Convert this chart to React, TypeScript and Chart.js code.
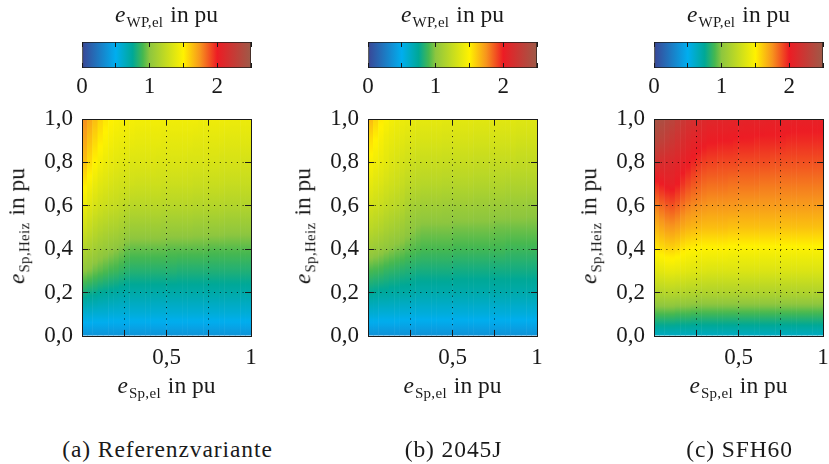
import React, { useEffect, useRef } from 'react';
import { Chart, registerables } from 'chart.js';

Chart.register(...registerables);

// ---------- data ----------
const X_COLUMNS = [
  0.015625, 0.046875, 0.078125, 0.109375, 0.140625, 0.171875, 0.203125, 0.234375,
  0.265625, 0.296875, 0.328125, 0.359375, 0.390625, 0.421875, 0.453125, 0.484375,
  0.515625, 0.546875, 0.578125, 0.609375, 0.640625, 0.671875, 0.703125, 0.734375,
  0.765625, 0.796875, 0.828125, 0.859375, 0.890625, 0.921875, 0.953125, 0.984375,
];
const Y_ROWS = [0, 0.1, 0.2, 0.3, 0.4, 0.5, 0.6, 0.7, 0.8, 0.9, 1.0];

// rows from y = 0 (first) to y = 1 (last); columns follow X_COLUMNS
const REF_GRID = [
  [0.37, 0.37, 0.37, 0.37, 0.37, 0.37, 0.37, 0.37, 0.37, 0.37,
    0.37, 0.37, 0.37, 0.37, 0.37, 0.37, 0.37, 0.37, 0.37, 0.37, 0.37,
    0.37, 0.37, 0.37, 0.37, 0.37, 0.37, 0.37, 0.37, 0.37, 0.37, 0.37],
  [0.58, 0.58, 0.57, 0.57, 0.57, 0.56, 0.56, 0.56, 0.56, 0.56,
    0.56, 0.56, 0.56, 0.56, 0.56, 0.56, 0.56, 0.56, 0.56, 0.56, 0.56,
    0.56, 0.56, 0.56, 0.56, 0.56, 0.56, 0.56, 0.56, 0.56, 0.56, 0.56],
  [0.80, 0.78, 0.77, 0.75, 0.74, 0.73, 0.72, 0.71, 0.70, 0.70,
    0.70, 0.70, 0.70, 0.70, 0.70, 0.70, 0.70, 0.70, 0.70, 0.70, 0.70,
    0.70, 0.70, 0.70, 0.70, 0.70, 0.70, 0.70, 0.70, 0.70, 0.70, 0.70],
  [1.00, 0.98, 0.95, 0.93, 0.91, 0.89, 0.88, 0.86, 0.84, 0.83,
    0.83, 0.83, 0.83, 0.83, 0.83, 0.83, 0.83, 0.83, 0.82, 0.82, 0.82,
    0.82, 0.82, 0.82, 0.82, 0.82, 0.82, 0.82, 0.82, 0.82, 0.82, 0.82],
  [1.15, 1.12, 1.09, 1.06, 1.04, 1.02, 1.00, 0.98, 0.95, 0.94,
    0.94, 0.94, 0.94, 0.94, 0.94, 0.94, 0.93, 0.93, 0.93, 0.93, 0.93,
    0.93, 0.93, 0.93, 0.92, 0.92, 0.92, 0.92, 0.92, 0.92, 0.92, 0.92],
  [1.29, 1.25, 1.21, 1.18, 1.16, 1.14, 1.13, 1.11, 1.08, 1.07,
    1.07, 1.07, 1.07, 1.07, 1.07, 1.06, 1.06, 1.06, 1.06, 1.06, 1.06,
    1.05, 1.05, 1.05, 1.05, 1.05, 1.05, 1.04, 1.04, 1.04, 1.04, 1.04],
  [1.41, 1.36, 1.32, 1.29, 1.27, 1.25, 1.24, 1.22, 1.20, 1.19,
    1.19, 1.19, 1.19, 1.19, 1.19, 1.18, 1.18, 1.18, 1.18, 1.18, 1.18,
    1.17, 1.17, 1.17, 1.17, 1.17, 1.17, 1.16, 1.16, 1.16, 1.16, 1.16],
  [1.52, 1.46, 1.41, 1.37, 1.35, 1.33, 1.31, 1.30, 1.29, 1.29,
    1.28, 1.28, 1.28, 1.28, 1.28, 1.27, 1.27, 1.27, 1.27, 1.27, 1.27,
    1.26, 1.26, 1.26, 1.26, 1.26, 1.26, 1.25, 1.25, 1.25, 1.25, 1.25],
  [1.63, 1.56, 1.50, 1.45, 1.42, 1.40, 1.38, 1.37, 1.36, 1.35,
    1.35, 1.35, 1.35, 1.35, 1.34, 1.34, 1.34, 1.34, 1.34, 1.34, 1.33,
    1.33, 1.33, 1.33, 1.33, 1.33, 1.32, 1.32, 1.32, 1.32, 1.31, 1.31],
  [1.70, 1.63, 1.57, 1.52, 1.48, 1.45, 1.43, 1.42, 1.41, 1.41,
    1.40, 1.40, 1.40, 1.40, 1.40, 1.39, 1.39, 1.39, 1.39, 1.39, 1.39,
    1.38, 1.38, 1.38, 1.38, 1.38, 1.38, 1.37, 1.37, 1.37, 1.37, 1.37],
  [1.76, 1.70, 1.64, 1.58, 1.53, 1.50, 1.48, 1.47, 1.46, 1.46,
    1.45, 1.45, 1.45, 1.45, 1.45, 1.44, 1.44, 1.44, 1.44, 1.44, 1.44,
    1.44, 1.43, 1.43, 1.43, 1.43, 1.43, 1.43, 1.42, 1.42, 1.42, 1.42],
];

const J2045_GRID = [
  [0.36, 0.36, 0.36, 0.36, 0.36, 0.36, 0.36, 0.36, 0.36, 0.36,
    0.36, 0.36, 0.36, 0.36, 0.36, 0.36, 0.36, 0.36, 0.36, 0.36, 0.36,
    0.36, 0.36, 0.36, 0.36, 0.36, 0.36, 0.36, 0.36, 0.36, 0.36, 0.36],
  [0.57, 0.57, 0.56, 0.56, 0.56, 0.56, 0.55, 0.55, 0.55, 0.55,
    0.55, 0.55, 0.55, 0.55, 0.55, 0.55, 0.55, 0.55, 0.55, 0.55, 0.55,
    0.55, 0.55, 0.55, 0.55, 0.55, 0.55, 0.55, 0.55, 0.55, 0.55, 0.55],
  [0.75, 0.74, 0.73, 0.73, 0.72, 0.72, 0.71, 0.71, 0.70, 0.69,
    0.69, 0.69, 0.69, 0.69, 0.69, 0.69, 0.69, 0.69, 0.69, 0.69, 0.69,
    0.69, 0.69, 0.69, 0.69, 0.69, 0.69, 0.69, 0.69, 0.69, 0.69, 0.69],
  [0.90, 0.89, 0.88, 0.86, 0.85, 0.84, 0.83, 0.82, 0.81, 0.80,
    0.80, 0.80, 0.80, 0.80, 0.80, 0.80, 0.79, 0.79, 0.79, 0.79, 0.79,
    0.79, 0.79, 0.79, 0.79, 0.79, 0.79, 0.79, 0.79, 0.79, 0.79, 0.79],
  [1.07, 1.05, 1.03, 1.01, 0.99, 0.97, 0.96, 0.94, 0.92, 0.91,
    0.90, 0.90, 0.90, 0.90, 0.90, 0.90, 0.89, 0.89, 0.89, 0.89, 0.89,
    0.89, 0.89, 0.89, 0.89, 0.89, 0.88, 0.88, 0.88, 0.88, 0.88, 0.88],
  [1.20, 1.18, 1.16, 1.13, 1.11, 1.09, 1.07, 1.04, 1.01, 0.99,
    0.98, 0.98, 0.98, 0.98, 0.98, 0.98, 0.97, 0.97, 0.97, 0.97, 0.97,
    0.97, 0.97, 0.97, 0.96, 0.96, 0.96, 0.96, 0.96, 0.96, 0.96, 0.96],
  [1.30, 1.28, 1.26, 1.23, 1.21, 1.19, 1.17, 1.13, 1.10, 1.09,
    1.08, 1.08, 1.08, 1.08, 1.07, 1.07, 1.07, 1.07, 1.07, 1.07, 1.06,
    1.06, 1.06, 1.06, 1.06, 1.06, 1.05, 1.05, 1.05, 1.05, 1.04, 1.04],
  [1.39, 1.36, 1.34, 1.31, 1.29, 1.27, 1.25, 1.22, 1.20, 1.19,
    1.18, 1.18, 1.18, 1.18, 1.17, 1.17, 1.17, 1.17, 1.17, 1.17, 1.16,
    1.16, 1.16, 1.16, 1.16, 1.16, 1.15, 1.15, 1.15, 1.15, 1.15, 1.15],
  [1.47, 1.44, 1.41, 1.38, 1.35, 1.33, 1.31, 1.29, 1.27, 1.26,
    1.26, 1.26, 1.26, 1.26, 1.25, 1.25, 1.25, 1.25, 1.25, 1.25, 1.24,
    1.24, 1.24, 1.24, 1.24, 1.24, 1.24, 1.24, 1.23, 1.23, 1.23, 1.23],
  [1.55, 1.50, 1.46, 1.42, 1.40, 1.38, 1.37, 1.35, 1.34, 1.33,
    1.33, 1.33, 1.33, 1.33, 1.32, 1.32, 1.32, 1.32, 1.32, 1.32, 1.31,
    1.31, 1.31, 1.31, 1.31, 1.31, 1.31, 1.31, 1.30, 1.30, 1.30, 1.30],
  [1.65, 1.58, 1.52, 1.48, 1.45, 1.43, 1.42, 1.41, 1.40, 1.39,
    1.39, 1.39, 1.39, 1.39, 1.38, 1.38, 1.38, 1.38, 1.38, 1.38, 1.37,
    1.37, 1.37, 1.37, 1.37, 1.37, 1.37, 1.37, 1.36, 1.36, 1.36, 1.36],
];

const SFH60_GRID = [
  [0.62, 0.62, 0.62, 0.62, 0.62, 0.62, 0.62, 0.62, 0.62, 0.62,
    0.62, 0.62, 0.62, 0.62, 0.62, 0.62, 0.62, 0.62, 0.62, 0.62, 0.62,
    0.62, 0.62, 0.62, 0.62, 0.62, 0.62, 0.62, 0.62, 0.62, 0.62, 0.62],
  [0.90, 0.90, 0.90, 0.90, 0.89, 0.89, 0.89, 0.88, 0.88, 0.88,
    0.88, 0.88, 0.88, 0.88, 0.88, 0.88, 0.88, 0.88, 0.88, 0.88, 0.88,
    0.88, 0.88, 0.88, 0.88, 0.88, 0.88, 0.88, 0.88, 0.88, 0.88, 0.88],
  [1.17, 1.17, 1.18, 1.18, 1.17, 1.17, 1.16, 1.16, 1.15, 1.15,
    1.15, 1.15, 1.15, 1.15, 1.15, 1.15, 1.15, 1.15, 1.15, 1.15, 1.15,
    1.15, 1.15, 1.15, 1.15, 1.15, 1.15, 1.15, 1.15, 1.15, 1.15, 1.15],
  [1.37, 1.38, 1.40, 1.40, 1.39, 1.38, 1.37, 1.36, 1.35, 1.35,
    1.34, 1.34, 1.34, 1.34, 1.34, 1.34, 1.34, 1.34, 1.34, 1.34, 1.34,
    1.34, 1.34, 1.34, 1.34, 1.34, 1.34, 1.34, 1.34, 1.34, 1.34, 1.34],
  [1.53, 1.55, 1.57, 1.58, 1.56, 1.53, 1.51, 1.50, 1.49, 1.49,
    1.49, 1.49, 1.49, 1.49, 1.48, 1.48, 1.48, 1.48, 1.48, 1.48, 1.48,
    1.48, 1.48, 1.48, 1.48, 1.48, 1.48, 1.48, 1.48, 1.48, 1.48, 1.48],
  [1.67, 1.70, 1.73, 1.74, 1.72, 1.69, 1.67, 1.66, 1.65, 1.64,
    1.64, 1.64, 1.64, 1.64, 1.63, 1.63, 1.63, 1.63, 1.63, 1.63, 1.63,
    1.63, 1.63, 1.63, 1.63, 1.63, 1.63, 1.63, 1.63, 1.63, 1.63, 1.63],
  [1.80, 1.84, 1.87, 1.89, 1.86, 1.82, 1.79, 1.77, 1.76, 1.75,
    1.74, 1.74, 1.74, 1.74, 1.74, 1.74, 1.73, 1.73, 1.73, 1.73, 1.73,
    1.73, 1.73, 1.73, 1.73, 1.73, 1.73, 1.73, 1.73, 1.73, 1.73, 1.73],
  [1.97, 2.00, 2.03, 2.04, 2.00, 1.95, 1.91, 1.88, 1.86, 1.84,
    1.83, 1.83, 1.83, 1.83, 1.82, 1.82, 1.82, 1.82, 1.82, 1.82, 1.81,
    1.81, 1.81, 1.81, 1.81, 1.81, 1.81, 1.81, 1.81, 1.81, 1.81, 1.81],
  [2.18, 2.14, 2.12, 2.11, 2.08, 2.05, 2.02, 1.98, 1.95, 1.93,
    1.92, 1.92, 1.91, 1.91, 1.91, 1.91, 1.90, 1.90, 1.90, 1.90, 1.90,
    1.90, 1.89, 1.89, 1.89, 1.89, 1.89, 1.89, 1.89, 1.89, 1.89, 1.89],
  [2.34, 2.30, 2.26, 2.22, 2.18, 2.14, 2.10, 2.07, 2.05, 2.03,
    2.01, 2.01, 2.00, 2.00, 2.00, 1.99, 1.99, 1.99, 1.99, 1.98, 1.98,
    1.98, 1.98, 1.98, 1.98, 1.97, 1.97, 1.97, 1.97, 1.97, 1.97, 1.97],
  [2.44, 2.41, 2.37, 2.33, 2.28, 2.23, 2.19, 2.16, 2.13, 2.11,
    2.09, 2.09, 2.08, 2.08, 2.07, 2.07, 2.07, 2.06, 2.06, 2.06, 2.06,
    2.05, 2.05, 2.05, 2.05, 2.05, 2.04, 2.04, 2.04, 2.04, 2.04, 2.04],
];

const X_TICKS = [0, 0.25, 0.5, 0.75, 1];
const X_TICK_LABELS = ['', '', '0,5', '', '1'];
const Y_TICKS = [0, 0.2, 0.4, 0.6, 0.8, 1];
const Y_TICK_LABELS = ['0,0', '0,2', '0,4', '0,6', '0,8', '1,0'];
const CB_TICKS = [0, 0.5, 1, 1.5, 2, 2.5];
const CB_TICK_LABELS = ['0', '', '1', '', '2', ''];

const CMAP_VALUES = [0, 0.5, 0.75, 0.9, 1.0, 1.5, 1.75, 2.0, 2.5];
const CMAP_COLORS = ['#3a4696', '#00aeef', '#00a896', '#46b850', '#8dc63f', '#fff200', '#f7941d', '#ed1c24', '#9e5a48'];

const PANEL_TITLES = ['(a) Referenzvariante', '(b) 2045J', '(c) SFH60'];

// ---------- layout ----------
const FONT = "'Liberation Serif', 'Times New Roman', serif";
const TXT = '#1a1a1a';
const PLOT_LEFT = [82, 368, 654];
const PLOT_TOP = 119;
const PLOT_W = 169;
const PLOT_H = 217;
const AX_L = 60, AX_R = 24, AX_T = 30, AX_B = 40;
const CB_TOP = 42, CB_H = 26, CB_PAD = 20, CB_AX_T = 14, CB_AX_B = 36;
const TICK_SIZE = 23;

function hexToRgb(h: string) {
  const n = parseInt(h.slice(1), 16);
  return [(n >> 16) & 255, (n >> 8) & 255, n & 255];
}
const CMAP_RGB = CMAP_COLORS.map(hexToRgb);

function cmap(v: number) {
  const vs = CMAP_VALUES;
  if (!(v > vs[0])) return `rgb(${CMAP_RGB[0].join(',')})`;
  if (v >= vs[vs.length - 1]) return `rgb(${CMAP_RGB[vs.length - 1].join(',')})`;
  let i = 0;
  while (v > vs[i + 1]) i++;
  const t = (v - vs[i]) / (vs[i + 1] - vs[i]);
  const a = CMAP_RGB[i], b = CMAP_RGB[i + 1];
  const c = a.map((x, k) => Math.round(x + (b[k] - x) * t));
  return `rgb(${c.join(',')})`;
}

const SUB = 8;

function Heatmap({ grid, left }: { grid: number[][]; left: number }) {
  const ref = useRef<HTMLCanvasElement>(null);
  useEffect(() => {
    const canvas = ref.current!;
    const last = Y_ROWS.length - 1;
    const columnFill = (ctx: any) => {
      const chart = ctx.chart;
      const ys = chart.scales.y;
      const c = ctx.dataIndex;
      if (!chart.chartArea || !ys || c === undefined) return 'rgba(0,0,0,0)';
      const p0 = ys.getPixelForValue(Y_ROWS[0]);
      const p1 = ys.getPixelForValue(Y_ROWS[last]);
      const g = chart.ctx.createLinearGradient(0, p0, 0, p1);
      const span = Y_ROWS[last] - Y_ROWS[0];
      for (let r = 0; r < last; r++) {
        const v0 = grid[r][c], v1 = grid[r + 1][c];
        for (let s = 0; s < SUB; s++) {
          const t = s / SUB;
          const yv = Y_ROWS[r] + (Y_ROWS[r + 1] - Y_ROWS[r]) * t;
          g.addColorStop((yv - Y_ROWS[0]) / span, cmap(v0 + (v1 - v0) * t));
        }
      }
      g.addColorStop(1, cmap(grid[last][c]));
      return g;
    };
    const gridColor = (c: any) =>
      c.tick && (c.tick.value <= 0 || c.tick.value >= 1) ? 'rgba(0,0,0,0)' : 'rgba(0,0,0,0.85)';
    const font = { family: FONT, size: TICK_SIZE };
    const tickGrid = { z: 1, drawOnChartArea: false, drawTicks: true, tickLength: -6, tickColor: TXT, tickWidth: 1 };
    const chart = new Chart(canvas, {
      type: 'bar',
      data: {
        datasets: [{
          data: X_COLUMNS.map((x) => ({ x, y: [Y_ROWS[0], Y_ROWS[last]] })) as any,
          backgroundColor: columnFill as any,
          borderWidth: 0,
          barPercentage: 1.1,
          categoryPercentage: 1,
        }],
      },
      options: {
        animation: false,
        responsive: false,
        maintainAspectRatio: false,
        events: [],
        layout: { padding: 0 },
        plugins: { legend: { display: false }, tooltip: { enabled: false } },
        scales: {
          x: {
            type: 'linear', position: 'bottom', min: 0, max: 1, offset: false,
            afterBuildTicks: (a: any) => { a.ticks = X_TICKS.map((v) => ({ value: v })); },
            afterFit: (a: any) => { a.height = AX_B; },
            grid: { ...tickGrid, offset: false, drawOnChartArea: true, color: gridColor, lineWidth: 1 },
            border: { display: true, color: TXT, width: 1, dash: [1, 4.7], z: 1 },
            ticks: { autoSkip: false, maxRotation: 0, padding: 14, color: TXT, font, callback: (_v: any, i: number) => X_TICK_LABELS[i] },
          },
          x2: {
            type: 'linear', position: 'top', min: 0, max: 1, offset: false,
            afterBuildTicks: (a: any) => { a.ticks = X_TICKS.map((v) => ({ value: v })); },
            afterFit: (a: any) => { a.height = AX_T; },
            grid: { ...tickGrid, offset: false },
            border: { display: true, color: TXT, width: 1, z: 1 },
            ticks: { display: false },
          },
          y: {
            type: 'linear', position: 'left', min: 0, max: 1,
            afterBuildTicks: (a: any) => { a.ticks = Y_TICKS.map((v) => ({ value: v })); },
            afterFit: (a: any) => { a.width = AX_L; },
            grid: { ...tickGrid, drawOnChartArea: true, color: gridColor, lineWidth: 1 },
            border: { display: true, color: TXT, width: 1, dash: [1, 4.7], z: 1 },
            ticks: { autoSkip: false, padding: 15, color: TXT, font, callback: (_v: any, i: number) => Y_TICK_LABELS[i] },
          },
          y2: {
            type: 'linear', position: 'right', min: 0, max: 1,
            afterBuildTicks: (a: any) => { a.ticks = Y_TICKS.map((v) => ({ value: v })); },
            afterFit: (a: any) => { a.width = AX_R; },
            grid: { ...tickGrid },
            border: { display: true, color: TXT, width: 1, z: 1 },
            ticks: { display: false },
          },
        } as any,
      },
    });
    return () => chart.destroy();
  }, [grid]);
  const w = AX_L + PLOT_W + AX_R;
  const h = AX_T + PLOT_H + AX_B;
  return (
    <canvas ref={ref} width={w} height={h}
      style={{ position: 'absolute', left: left - AX_L, top: PLOT_TOP - AX_T, width: w, height: h }} />
  );
}

function ColorBar({ left }: { left: number }) {
  const ref = useRef<HTMLCanvasElement>(null);
  useEffect(() => {
    const canvas = ref.current!;
    const n = CMAP_VALUES.length - 1;
    const barFill = (ctx: any) => {
      const chart = ctx.chart;
      const xs = chart.scales.x;
      if (!chart.chartArea || !xs) return 'rgba(0,0,0,0)';
      const p0 = xs.getPixelForValue(CMAP_VALUES[0]);
      const p1 = xs.getPixelForValue(CMAP_VALUES[n]);
      const g = chart.ctx.createLinearGradient(p0, 0, p1, 0);
      const span = CMAP_VALUES[n] - CMAP_VALUES[0];
      CMAP_VALUES.forEach((v, i) => g.addColorStop((v - CMAP_VALUES[0]) / span, CMAP_COLORS[i]));
      return g;
    };
    const font = { family: FONT, size: TICK_SIZE };
    const tickGrid = { z: 1, drawOnChartArea: false, drawTicks: true, tickLength: -5, tickColor: TXT, tickWidth: 1 };
    const chart = new Chart(canvas, {
      type: 'bar',
      data: {
        labels: ['e'],
        datasets: [{
          data: [[CB_TICKS[0], CB_TICKS[CB_TICKS.length - 1]]] as any,
          backgroundColor: barFill as any,
          borderColor: TXT,
          borderWidth: 1,
          borderSkipped: false,
          barPercentage: 1,
          categoryPercentage: 1,
        }],
      },
      options: {
        indexAxis: 'y',
        animation: false,
        responsive: false,
        maintainAspectRatio: false,
        events: [],
        layout: { padding: { left: CB_PAD, right: CB_PAD, top: 0, bottom: 0 } },
        plugins: { legend: { display: false }, tooltip: { enabled: false } },
        scales: {
          y: { display: false, offset: true },
          x: {
            type: 'linear', position: 'bottom', min: CB_TICKS[0], max: CB_TICKS[CB_TICKS.length - 1],
            afterBuildTicks: (a: any) => { a.ticks = CB_TICKS.map((v) => ({ value: v })); },
            afterFit: (a: any) => { a.height = CB_AX_B; },
            grid: tickGrid,
            border: { display: false },
            ticks: { autoSkip: false, maxRotation: 0, padding: 10, color: TXT, font, callback: (_v: any, i: number) => CB_TICK_LABELS[i] },
          },
          x2: {
            type: 'linear', position: 'top', min: CB_TICKS[0], max: CB_TICKS[CB_TICKS.length - 1],
            afterBuildTicks: (a: any) => { a.ticks = CB_TICKS.map((v) => ({ value: v })); },
            afterFit: (a: any) => { a.height = CB_AX_T; },
            grid: tickGrid,
            border: { display: false },
            ticks: { display: false },
          },
        } as any,
      },
    });
    return () => chart.destroy();
  }, []);
  const w = CB_PAD + PLOT_W + CB_PAD;
  const h = CB_AX_T + CB_H + CB_AX_B;
  return (
    <canvas ref={ref} width={w} height={h}
      style={{ position: 'absolute', left: left - CB_PAD, top: CB_TOP - CB_AX_T, width: w, height: h }} />
  );
}

function Text({ x, y, rotate, size = 23.5, spacing = 0, children }: any) {
  return (
    <div style={{
      position: 'absolute', left: x, top: y, whiteSpace: 'nowrap', lineHeight: 1,
      fontFamily: FONT, fontSize: size, color: TXT, letterSpacing: spacing,
      transform: `translate(-50%, -50%)${rotate ? ` rotate(${rotate}deg)` : ''}`,
    }}>{children}</div>
  );
}

function MathLabel({ sub }: { sub: string }) {
  return (
    <>
      <span style={{ fontStyle: 'italic', marginRight: 1 }}>e</span>
      <span style={{ fontSize: 15, position: 'relative', top: 5, letterSpacing: 0.3 }}>{sub}</span>
      <span style={{ marginLeft: 7 }}>in pu</span>
    </>
  );
}

const GRIDS = [REF_GRID, J2045_GRID, SFH60_GRID];

export default function App() {
  return (
    <div style={{ position: 'absolute', left: 0, top: 0, width: 829, height: 464, background: '#fff', overflow: 'hidden' }}>
      {GRIDS.map((g, i) => {
        const left = PLOT_LEFT[i];
        const cx = left + PLOT_W / 2;
        return (
          <React.Fragment key={i}>
            <ColorBar left={left} />
            <Heatmap grid={g} left={left} />
            <Text x={cx} y={15}><MathLabel sub="WP,el" /></Text>
            <Text x={left - 65} y={226} rotate={-90}><MathLabel sub="Sp,Heiz" /></Text>
            <Text x={cx} y={386}><MathLabel sub="Sp,el" /></Text>
            <Text x={cx + 1} y={450} spacing={0.9}>{PANEL_TITLES[i]}</Text>
          </React.Fragment>
        );
      })}
    </div>
  );
}
